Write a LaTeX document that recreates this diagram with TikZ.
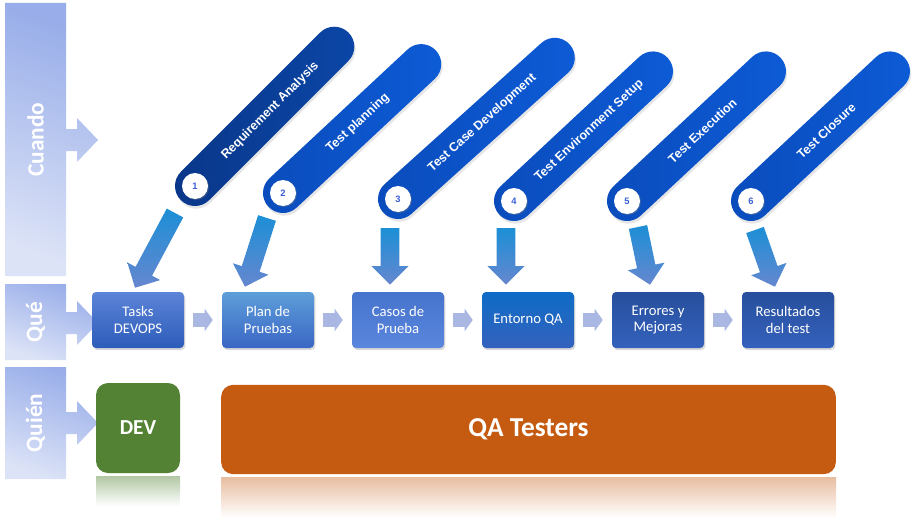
\documentclass[tikz,border=0pt]{standalone}
\usepackage{fontspec}
\setmainfont{Carlito}
\newfontfamily\pillfont{Liberation Sans}
\usetikzlibrary{arrows.meta, calc, shapes.misc, shadows}
\definecolor{bartop}{HTML}{98ADE9}
\definecolor{barbot}{HTML}{DCE3F7}
\definecolor{connblue}{HTML}{A9B7E2}
\definecolor{arrowtop}{HTML}{1C8FD6}
\definecolor{arrowmid}{HTML}{2D58B6}
\definecolor{arrowbot}{HTML}{6687CF}
\definecolor{navyA}{HTML}{09378A}
\definecolor{navyB}{HTML}{0B46A6}
\definecolor{royalA}{HTML}{0A4CBC}
\definecolor{royalB}{HTML}{0D5BD6}
\definecolor{numblue}{HTML}{3A5ED6}
\definecolor{devgreen}{HTML}{548235}
\definecolor{qaorange}{HTML}{C55A11}
\definecolor{boxA}{HTML}{5C84D8}
\definecolor{boxB}{HTML}{2D5CB9}
\definecolor{boxC}{HTML}{5D9ED9}
\definecolor{boxD}{HTML}{3A66C4}
\definecolor{boxE}{HTML}{4673CB}
\definecolor{boxF}{HTML}{2A59B7}
\definecolor{boxG}{HTML}{5A86DE}
\definecolor{boxH}{HTML}{0E6CC6}
\definecolor{boxI}{HTML}{3462BD}
\definecolor{boxJ}{HTML}{274F9C}
\definecolor{boxK}{HTML}{3461BC}
\newcommand{\rowlabel}[5]{%
  \shade[top color=bartop, bottom color=barbot, shading angle=-20]
    (5,#2) -- (66,#2) -- (66,#4-11) -- (77,#4-11) -- (77,#4-22) -- (98,#4)
    -- (77,#4+22) -- (77,#4+11) -- (66,#4+11) -- (66,#3) -- (5,#3) -- cycle;
  \node[rowtext] (#1) at (35.5,{(#2+#3)/2}) {#5};}
\newcommand{\procbox}[4]{%
  \node[proc, #4] (#1) at (#2,320) {#3};}
\newcommand{\phasepill}[8]{%
  \coordinate (#1a) at (#2,#3);
  \node[pill, #8, rotate=#4, minimum width={(#5+40)*0.75pt}] (#1) at ($(#1a)+({-#4}:{#5/2})$) {};
  \node[pilltext, rotate=#4] (#1t) at ($(#1)+({-#4}:8)$) {#6};
  \node[numdot] (#1n) at (#1a) {#7};}
\newcommand{\flowarrow}[2]{%
  \coordinate (fa) at (#1);
  \coordinate (fb) at (#2);
  \coordinate (fc) at ($(fb)!14pt!(fa)$);
  \shade[top color=arrowtop, middle color=arrowmid, bottom color=arrowbot]
    ($(fa)!7pt!90:(fb)$) -- ($(fc)!7pt!-90:(fa)$) -- ($(fc)!14pt!-90:(fa)$) -- (fb)
    -- ($(fc)!14pt!90:(fa)$) -- ($(fc)!7pt!90:(fa)$) -- ($(fa)!7pt!-90:(fb)$) -- cycle;}

\begin{document}
\begin{tikzpicture}[x=0.75pt, y=-0.75pt, font=\fontsize{11}{12.5}\selectfont,
    rowtext/.style={rotate=90, text=white, font=\bfseries\fontsize{17.5}{20}\selectfont},
    proc/.style={rounded corners=3pt, minimum width=69pt, minimum height=42pt,
      align=center, text=white, inner sep=0pt,
      drop shadow={opacity=.3, shadow xshift=1pt, shadow yshift=-1.5pt}},
    conn/.style={connblue, line width=10.5pt, shorten <=6.75pt, shorten >=6.75pt,
      -{Triangle[width=16.5pt, length=6pt]}},
    pill/.style={rounded rectangle, minimum height=30pt, inner sep=0pt,
      drop shadow={opacity=.2, shadow xshift=1pt, shadow yshift=-2pt}},
    pilltext/.style={text=white, font=\pillfont\bfseries\fontsize{9.4}{11}\selectfont},
    numdot/.style={circle, fill=white, minimum size=19.5pt, inner sep=0pt, text=numblue,
      font=\pillfont\bfseries\fontsize{7}{8}\selectfont,
      drop shadow={opacity=.35, shadow xshift=.8pt, shadow yshift=-.8pt}},
    role/.style={rounded corners=9pt, text=white, inner sep=0pt}]
  \useasboundingbox (0,0) rectangle (920,528);

  % left column
  \rowlabel{qwhen}{3}{276}{140}{Cuando}
  \rowlabel{qwhat}{284}{360}{323}{Qué}
  \rowlabel{qwho}{367}{479}{423}{Quién}

  % what
  \procbox{t1}{138}{Tasks\\DEVOPS}{top color=boxA, bottom color=boxB}
  \procbox{t2}{268}{Plan de\\Pruebas}{top color=boxC, bottom color=boxD}
  \procbox{t3}{398}{Casos de\\Prueba}{top color=boxE, middle color=boxF, bottom color=boxG}
  \procbox{t4}{528}{Entorno QA}{top color=boxH, bottom color=boxI}
  \procbox{t5}{658}{Errores y\\Mejoras}{top color=boxJ, bottom color=boxK}
  \procbox{t6}{788}{Resultados\\del test}{top color=boxJ, bottom color=boxK}
  \foreach \a/\b in {t1/t2, t2/t3, t3/t4, t4/t5, t5/t6}
    \draw[conn] (\a) -- (\b);

  % when
  \phasepill{p1}{195}{186}{45}{197}{Requirement Analysis}{1}{left color=navyA, right color=navyB}
  \phasepill{p2}{283}{193}{43}{189}{Test planning}{2}{left color=royalA, right color=royalB}
  \phasepill{p3}{398}{199}{42}{211}{Test Case Development}{3}{left color=royalA, right color=royalB}
  \phasepill{p4}{514}{201}{43}{190}{Test Environment Setup}{4}{left color=royalA, right color=royalB}
  \phasepill{p5}{627}{201}{43}{190}{Test Execution}{5}{left color=royalA, right color=royalB}
  \phasepill{p6}{751}{201}{43}{190}{Test Closure}{6}{left color=royalA, right color=royalB}

  \flowarrow{$(p1n)+(-20,27)$}{$(t1.north)+(-3,-4)$}
  \flowarrow{$(p2n)+(-16,25)$}{$(t2.north)+(-23,-5)$}
  \flowarrow{$(p3n)+(-8,29)$}{$(t3.north)+(-8,-7)$}
  \flowarrow{$(p4n)+(-8,27)$}{$(t4.north)+(-22,-7)$}
  \flowarrow{$(p5n)+(11,26)$}{$(t5.north)+(-8,-7)$}
  \flowarrow{$(p6n)+(4,29)$}{$(t6.north)+(-13,-5)$}

  % who
  \node[role, fill=devgreen, minimum width=63pt, minimum height=67.5pt,
        font=\bfseries\fontsize{16}{18}\selectfont] (dev) at (138,428) {DEV};
  \node[role, fill=qaorange, minimum width=461pt, minimum height=67pt,
        font=\bfseries\fontsize{20.5}{22}\selectfont] (qa) at (528.5,429.5) {QA Testers};
  \shade[top color=devgreen!45, bottom color=white] (96,476) rectangle (180,506);
  \shade[top color=qaorange!40, bottom color=white] (221,477) rectangle (836,518);
\end{tikzpicture}
\end{document}
